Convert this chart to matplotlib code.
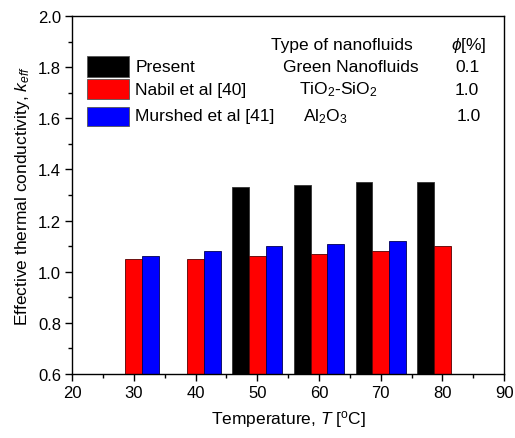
import numpy as np
import matplotlib.pyplot as plt
from matplotlib.patches import Rectangle
from matplotlib.ticker import MultipleLocator

plt.rcParams['font.family'] = ['Liberation Sans', 'DejaVu Sans']
plt.rcParams['mathtext.fontset'] = 'custom'
plt.rcParams['mathtext.rm'] = 'Liberation Sans'
plt.rcParams['mathtext.it'] = 'Liberation Sans:italic'
plt.rcParams['font.size'] = 12

# Data
temps_present = [50, 60, 70, 80]
k_present = [1.33, 1.34, 1.35, 1.35]

temps_nabil = [30, 40, 50, 60, 70, 80]
k_nabil = [1.05, 1.05, 1.06, 1.07, 1.08, 1.10]

temps_murshed = [30, 40, 50, 60, 70]
k_murshed = [1.06, 1.08, 1.10, 1.11, 1.12]

labels = ['Present', 'Nabil et al [40]', 'Murshed et al [41]']
fluids = ['Green Nanofluids', r'TiO$_2$-SiO$_2$', r'Al$_2$O$_3$']
phis = ['0.1', '1.0', '1.0']
colors = ['black', '#ff0000', '#0000ff']

w = 2.7  # bar width in degC
base = 0.6
fs = 12.5

fig = plt.figure(figsize=(5.15, 4.39), dpi=100)
ax = fig.add_axes([0.140, 0.146, 0.839, 0.815])

ax.bar(np.array(temps_present) - w, np.array(k_present) - base, w, bottom=base,
       color=colors[0], edgecolor='#333333', linewidth=0.6)
ax.bar(np.array(temps_nabil), np.array(k_nabil) - base, w, bottom=base,
       color=colors[1], edgecolor='#550000', linewidth=0.6)
ax.bar(np.array(temps_murshed) + w, np.array(k_murshed) - base, w, bottom=base,
       color=colors[2], edgecolor='#000055', linewidth=0.6)

ax.set_xlim(20, 90)
ax.set_ylim(0.6, 2.0)
ax.xaxis.set_major_locator(MultipleLocator(10))
ax.xaxis.set_minor_locator(MultipleLocator(5))
ax.yaxis.set_major_locator(MultipleLocator(0.2))
ax.yaxis.set_minor_locator(MultipleLocator(0.1))
ax.yaxis.set_major_formatter(plt.FormatStrFormatter('%.1f'))
ax.tick_params(which='both', direction='out', top=False, right=False)
ax.tick_params(which='major', length=5, width=1, labelsize=12, pad=3)
ax.tick_params(which='minor', length=3, width=1)
for s in ax.spines.values():
    s.set_linewidth(1)

ax.set_xlabel(r'Temperature, $T$ [$^{\mathrm{o}}$C]', fontsize=fs, labelpad=6)
ax.set_ylabel(r'Effective thermal conductivity, $k_{eff}$', fontsize=fs, labelpad=4)

# legend keys and columns (drawn by hand to follow the uneven row spacing)
key_x, key_w = 0.035, 0.097
key_top = [0.889, 0.824, 0.747]
key_bot = [0.830, 0.768, 0.694]
rows_y = [0.860, 0.796, 0.721]
fluid_x = [0.646, 0.616, 0.586]
phi_x = [0.914, 0.914, 0.918]
for i in range(3):
    ax.add_patch(Rectangle((key_x, key_bot[i]), key_w, key_top[i] - key_bot[i],
                           transform=ax.transAxes, facecolor=colors[i],
                           edgecolor='#555555', linewidth=0.6, clip_on=False))
    ax.text(0.146, rows_y[i], labels[i], transform=ax.transAxes,
            ha='left', va='center', fontsize=fs)
    ax.text(fluid_x[i], rows_y[i], fluids[i], transform=ax.transAxes,
            ha='center', va='center', fontsize=fs)
    ax.text(phi_x[i], rows_y[i], phis[i], transform=ax.transAxes,
            ha='center', va='center', fontsize=fs)

ax.text(0.625, 0.922, 'Type of nanofluids', transform=ax.transAxes,
        ha='center', va='center', fontsize=fs)
ax.text(0.917, 0.922, r'$\phi$[%]', transform=ax.transAxes,
        ha='center', va='center', fontsize=fs)

fig.savefig('out.png', dpi=100)
